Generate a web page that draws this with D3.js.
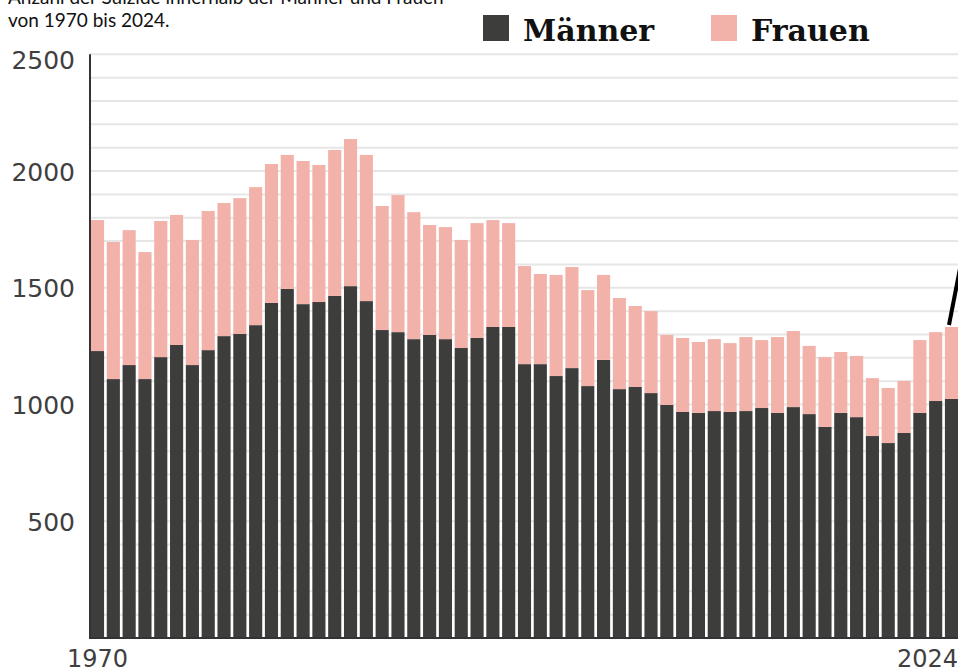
<!DOCTYPE html>
<html>
<head>
<meta charset="utf-8">
<script src="https://cdn.jsdelivr.net/npm/d3@7"></script>
<style>
  html, body { margin: 0; padding: 0; background: #fff; }
  svg { display: block; }
</style>
</head>
<body>
<svg id="chart" width="958" height="669"></svg>
<script>
const years = d3.range(1970, 2025);
const maenner = [1229,1109,1169,1109,1203,1255,1169,1233,1293,1302,1340,1435,1495,1430,1439,1465,1507,1443,1319,1310,1280,1298,1280,1242,1285,1332,1332,1173,1173,1122,1156,1079,1191,1066,1075,1049,998,968,964,972,968,972,985,964,989,959,904,964,946,865,835,878,964,1015,1024];
const gesamt = [1790,1696,1747,1653,1786,1812,1705,1829,1863,1884,1931,2030,2069,2043,2026,2090,2137,2069,1850,1897,1824,1769,1760,1705,1777,1790,1777,1593,1559,1555,1589,1490,1555,1456,1422,1400,1298,1285,1268,1280,1263,1289,1276,1289,1315,1251,1203,1225,1208,1113,1071,1101,1276,1310,1332];
const frauen = gesamt.map((g, i) => g - maenner[i]);
const yTicks = [500, 1000, 1500, 2000, 2500];
const gridValues = d3.range(100, 2501, 100);
const xLabels = [1970, 2024];
const seriesNames = ["Männer", "Frauen"];
const colors = {"Männer": "#3d3d3b", "Frauen": "#f2b2aa"};
const titleLines = ["Anzahl der Suizide innerhalb der Männer und Frauen", "von 1970 bis 2024."];

const svg = d3.select("#chart");
const mLeft = 90, mRight = 959, mTop = 54.3, mBottom = 638;

const x = d3.scaleBand().domain(years).range([mLeft, mRight]).paddingInner(0.17).paddingOuter(0.06);
const y = d3.scaleLinear().domain([0, 2500]).range([mBottom, mTop]);

// title
svg.append("text").attr("x", 8).attr("y", 3.5).attr("font-family", "Lato, 'Noto Sans', sans-serif")
  .attr("font-size", 19).attr("fill", "#111").text(titleLines[0]);
svg.append("text").attr("x", 8).attr("y", 27).attr("font-family", "Lato, 'Noto Sans', sans-serif")
  .attr("font-size", 19).attr("fill", "#111").text(titleLines[1]);

// gridlines
svg.append("g").selectAll("line").data(gridValues).join("line")
  .attr("x1", mLeft).attr("x2", 958)
  .attr("y1", d => y(d)).attr("y2", d => y(d))
  .attr("stroke", "#e6e6e6").attr("stroke-width", 2);

// stacked bars
const data = years.map((yr, i) => ({year: yr, "Männer": maenner[i], "Frauen": frauen[i]}));
const stacked = d3.stack().keys(seriesNames)(data);
svg.append("g").selectAll("g").data(stacked).join("g")
  .attr("fill", d => colors[d.key])
  .selectAll("rect").data(d => d).join("rect")
  .attr("x", d => x(d.data.year))
  .attr("width", x.bandwidth())
  .attr("y", d => y(d[1]))
  .attr("height", d => y(d[0]) - y(d[1]));

// y axis
const yAxis = d3.axisLeft(y).tickValues(yTicks).tickSize(0).tickPadding(15).tickFormat(d3.format("d"));
const ya = svg.append("g").attr("transform", `translate(${mLeft},0)`).call(yAxis);
ya.select(".domain").remove();
ya.selectAll("text").attr("font-family", "'DejaVu Sans', sans-serif").attr("font-size", 25).attr("fill", "#3f3f3f")
  .attr("dy", d => d === 2500 ? "0.56em" : "0.36em");
svg.append("line").attr("x1", mLeft).attr("x2", mLeft).attr("y1", mTop).attr("y2", mBottom + 1)
  .attr("stroke", "#333").attr("stroke-width", 2);

// x baseline
svg.append("line").attr("x1", mLeft).attr("x2", 958).attr("y1", mBottom).attr("y2", mBottom)
  .attr("stroke", "#333").attr("stroke-width", 2);

// x labels
svg.append("g").selectAll("text").data(xLabels).join("text")
  .attr("x", d => d === 2024 ? 958 : x(d) + x.bandwidth() / 2)
  .attr("y", 667)
  .attr("text-anchor", d => d === 2024 ? "end" : "middle")
  .attr("font-family", "'DejaVu Sans', sans-serif").attr("font-size", 24).attr("fill", "#3f3f3f")
  .text(d => d);

// legend
const legendPos = [{name: "Männer", x: 483}, {name: "Frauen", x: 711}];
const lg = svg.append("g").selectAll("g").data(legendPos).join("g");
lg.append("rect").attr("x", d => d.x).attr("y", 15).attr("width", 26).attr("height", 26)
  .attr("fill", d => colors[d.name]);
lg.append("text").attr("x", d => d.x + 40).attr("y", 41)
  .attr("font-family", "'DejaVu Serif', serif").attr("font-weight", "bold").attr("font-size", 30)
  .attr("fill", "#111").text(d => d.name);

// annotation pointer
const last = years[years.length - 1];
const lx = x(last) + x.bandwidth() / 2 - 2.5;
const ly = y(gesamt[gesamt.length - 1]) - 2;
svg.append("line").attr("x1", lx).attr("y1", ly).attr("x2", lx + 14).attr("y2", ly - 72)
  .attr("stroke", "#000").attr("stroke-width", 4);
</script>
</body>
</html>
